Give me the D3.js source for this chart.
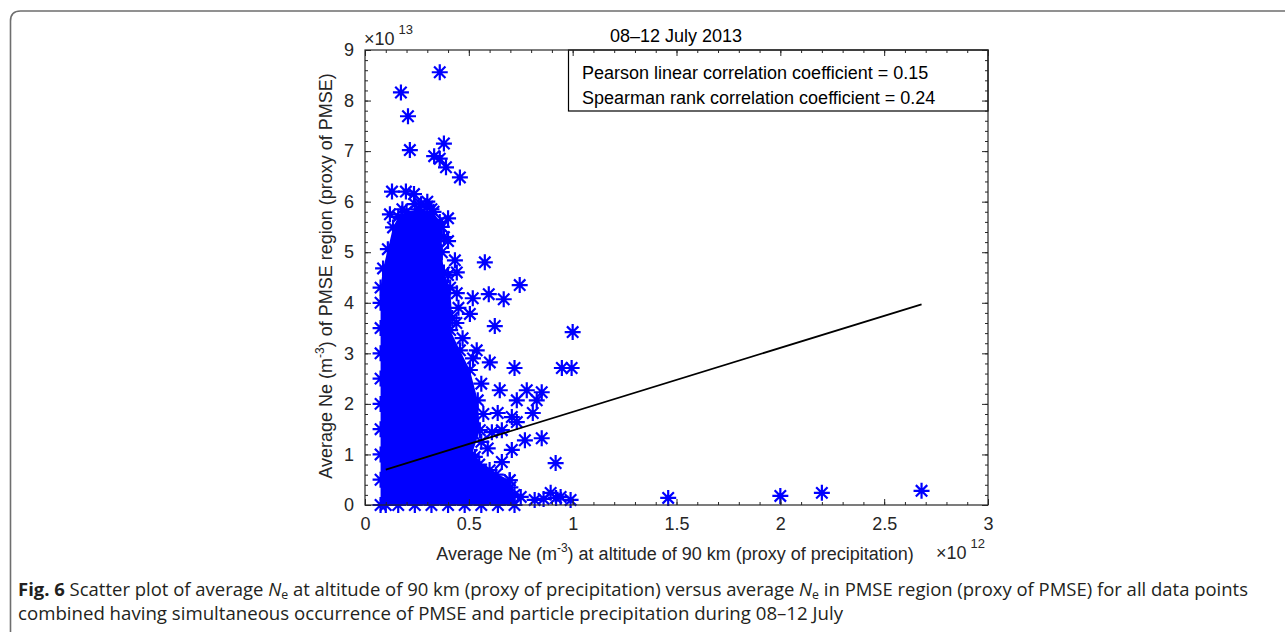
<!DOCTYPE html>
<html>
<head>
<meta charset="utf-8">
<script src="https://cdn.jsdelivr.net/npm/d3@7/dist/d3.min.js"></script>
<style>
  body { margin: 0; background: #fff; }
  svg { display: block; }
  .ax text { font-family: "Liberation Sans", Arial, Helvetica, sans-serif; font-size: 18px; fill: #262626; }
  .ax line { stroke: #262626; stroke-width: 1; }
</style>
</head>
<body>
<svg id="chart" width="1285" height="632"></svg>
<script>
// ---- data (x in units of 1e12 m^-3, y in units of 1e13 m^-3) ----
const xTickValues = [0, 0.5, 1, 1.5, 2, 2.5, 3];
const xTickLabels = ["0", "0.5", "1", "1.5", "2", "2.5", "3"];
const yTickValues = [0, 1, 2, 3, 4, 5, 6, 7, 8, 9];
const yTickLabels = ["0", "1", "2", "3", "4", "5", "6", "7", "8", "9"];

// outline of the densely packed core of the scatter (star centres)
const coreX = [0.075, 0.075, 0.075, 0.075, 0.075, 0.075, 0.075, 0.075, 0.075, 0.075, 0.087, 0.11, 0.135, 0.16,
               0.2, 0.26, 0.33, 0.37, 0.37, 0.38, 0.41, 0.42, 0.41, 0.457, 0.505, 0.543, 0.553, 0.514, 0.6,
               0.697, 0.72, 0.72, 0.64, 0.56, 0.48, 0.4, 0.32, 0.24, 0.16, 0.1];
const coreY = [0, 0.5, 1.0, 1.5, 2.0, 2.5, 3.0, 3.5, 4.0, 4.3, 4.68, 5.06, 5.49, 5.7,
               5.8, 5.85, 5.8, 5.5, 5.0, 4.6, 4.3, 3.7, 3.46, 3.06, 2.67, 2.07, 1.48, 0.99, 0.69,
               0.49, 0.2, 0, 0, 0, 0, 0, 0, 0, 0, 0];

// individual points outside the core
const ptX = [0.36, 0.173, 0.207, 0.216, 0.38, 0.333, 0.36, 0.39, 0.457, 0.13, 0.197, 0.236, 0.27, 0.3, 0.32,
             0.40, 0.40, 0.433, 0.442, 0.40, 0.577, 0.745, 0.442, 0.519, 0.596, 0.668, 0.505, 0.625, 1.0,
             0.538, 0.601, 0.72, 0.948, 0.995, 0.649, 0.779, 0.851, 0.731, 0.827, 0.639, 0.707, 0.808,
             0.731, 0.611, 0.659, 0.77, 0.851, 0.591, 0.707, 0.529, 0.659, 0.918, 0.697, 0.75, 0.817,
             0.894, 0.942, 0.99, 0.92, 0.86, 1.46, 2.0, 2.2, 2.68,
             0.45, 0.47, 0.52, 0.56, 0.57, 0.56, 0.55, 0.63, 0.7, 0.36, 0.38, 0.3, 0.24, 0.18, 0.12,
             0.66, 0.6, 0.5, 0.48, 0.44];
const ptY = [8.56, 8.16, 7.69, 7.02, 7.15, 6.9, 6.85, 6.68, 6.48, 6.2, 6.2, 6.15, 5.95, 5.9, 5.85,
             5.67, 5.22, 4.84, 4.6, 4.55, 4.80, 4.35, 4.19, 4.09, 4.17, 4.07, 3.78, 3.54, 3.42,
             3.06, 2.82, 2.71, 2.71, 2.71, 2.27, 2.27, 2.23, 2.07, 2.07, 1.82, 1.74, 1.82,
             1.64, 1.44, 1.48, 1.28, 1.32, 1.12, 1.09, 0.95, 0.85, 0.83, 0.49, 0.16, 0.10,
             0.24, 0.16, 0.10, 0.14, 0.12, 0.14, 0.18, 0.24, 0.28,
             3.9, 3.3, 2.9, 2.4, 1.8, 1.25, 0.8, 0.6, 0.35, 5.6, 5.3, 6.0, 5.95, 5.85, 5.75,
             0.2, 0.3, 1.6, 2.3, 3.6];

// least-squares fit line end points
const fitX = [0.1, 2.68];
const fitY = [0.7, 3.97];

const pearsonR = 0.15;
const spearmanR = 0.24;
const titleText = "08–12 July 2013";

// ---- layout ----
const svg = d3.select("#chart");
const pLeft = 365, pRight = 988, pTop = 50, pBottom = 505;
const x = d3.scaleLinear().domain([0, 3]).range([pLeft, pRight]);
const y = d3.scaleLinear().domain([0, 9]).range([pBottom, pTop]);
const blue = "#0000ff";
const font = "'Liberation Sans', Arial, Helvetica, sans-serif";

// rounded figure frame
svg.append("path")
  .attr("d", "M10.5,640 L10.5,21 Q10.5,11 20.5,11 L1295,11")
  .attr("fill", "none").attr("stroke", "#6e6e6e").attr("stroke-width", 1.6);

const plot = svg.append("g");

// dense core filled
const corePts = coreX.map((d, i) => [x(d), y(coreY[i])]);
plot.append("path")
  .attr("d", d3.line()(corePts) + "Z")
  .attr("fill", blue);

// star marker (MATLAB-like '*')
const r = 8, dd = 5.7;
const starPath = `M${-r},0L${r},0M0,${-r}L0,${r}M${-dd},${-dd}L${dd},${dd}M${-dd},${dd}L${dd},${-dd}`;
function stars(xs, ys) {
  plot.append("g").selectAll("path").data(xs.map((d, i) => [d, ys[i]])).join("path")
    .attr("d", starPath)
    .attr("transform", d => `translate(${x(d[0])},${y(d[1])})`)
    .attr("fill", "none").attr("stroke", blue).attr("stroke-width", 2.2);
}
stars(coreX, coreY);
stars(ptX, ptY);

// fit line
plot.append("path")
  .attr("d", d3.line()(fitX.map((d, i) => [x(d), y(fitY[i])])))
  .attr("fill", "none").attr("stroke", "#000").attr("stroke-width", 1.8);

// correlation box
const box = svg.append("g");
box.append("rect").attr("x", 568.5).attr("y", pTop).attr("width", pRight - 568.5).attr("height", 61)
  .attr("fill", "#fff").attr("stroke", "#000").attr("stroke-width", 1.2);
box.append("text").attr("x", 582).attr("y", 79)
  .attr("font-family", font).attr("font-size", 18).attr("fill", "#000")
  .text(`Pearson linear correlation coefficient = ${pearsonR.toFixed(2)}`);
box.append("text").attr("x", 582).attr("y", 104)
  .attr("font-family", font).attr("font-size", 18).attr("fill", "#000")
  .text(`Spearman rank correlation coefficient = ${spearmanR.toFixed(2)}`);

// axes (ticks inward, on all four sides)
const xMinor = d3.range(0, 31).map(i => i / 10);
const yMinor = d3.range(0, 46).map(i => i / 5);
function addAxis(gen, tx, ty) {
  const g = svg.append("g").attr("class", "ax").attr("transform", `translate(${tx},${ty})`).call(gen);
  g.select(".domain").remove();
  return g;
}
addAxis(d3.axisBottom(x).tickValues(xMinor).tickSize(-3).tickFormat(""), 0, pBottom);
addAxis(d3.axisTop(x).tickValues(xMinor).tickSize(-3).tickFormat(""), 0, pTop);
addAxis(d3.axisLeft(y).tickValues(yMinor).tickSize(-3).tickFormat(""), pLeft, 0);
addAxis(d3.axisRight(y).tickValues(yMinor).tickSize(-3).tickFormat(""), pRight, 0);
addAxis(d3.axisBottom(x).tickValues(xTickValues).tickSize(-6).tickPadding(12)
  .tickFormat((d, i) => xTickLabels[i]), 0, pBottom);
addAxis(d3.axisTop(x).tickValues(xTickValues).tickSize(-6).tickFormat(""), 0, pTop);
addAxis(d3.axisLeft(y).tickValues(yTickValues).tickSize(-6).tickPadding(11)
  .tickFormat((d, i) => yTickLabels[i]), pLeft, 0);
addAxis(d3.axisRight(y).tickValues(yTickValues).tickSize(-6).tickFormat(""), pRight, 0);

// axes box
svg.append("rect").attr("x", pLeft).attr("y", pTop).attr("width", pRight - pLeft).attr("height", pBottom - pTop)
  .attr("fill", "none").attr("stroke", "#262626").attr("stroke-width", 1.2);

// title
svg.append("text").attr("x", 676).attr("y", 42).attr("text-anchor", "middle")
  .attr("font-family", font).attr("font-size", 18).attr("fill", "#000").text(titleText);

// exponent labels
const ey = svg.append("text").attr("x", 364).attr("y", 45)
  .attr("font-family", font).attr("font-size", 18).attr("fill", "#262626");
ey.append("tspan").text("×10");
ey.append("tspan").attr("dy", -11).attr("font-size", 13).attr("dx", 4).text("13");

const ex = svg.append("text").attr("x", 936).attr("y", 559)
  .attr("font-family", font).attr("font-size", 18).attr("fill", "#262626");
ex.append("tspan").text("×10");
ex.append("tspan").attr("dy", -11).attr("font-size", 13).attr("dx", 4).text("12");

// axis labels
const xl = svg.append("text").attr("x", 675).attr("y", 560).attr("text-anchor", "middle")
  .attr("font-family", font).attr("font-size", 18).attr("fill", "#262626");
xl.append("tspan").text("Average Ne (m");
xl.append("tspan").attr("dy", -8).attr("font-size", 12).text("-3");
xl.append("tspan").attr("dy", 8).text(") at altitude of 90 km (proxy of precipitation)");

const yl = svg.append("text").attr("transform", "translate(332,276) rotate(-90)").attr("text-anchor", "middle")
  .attr("font-family", font).attr("font-size", 18).attr("fill", "#262626");
yl.append("tspan").text("Average Ne (m");
yl.append("tspan").attr("dy", -8).attr("font-size", 12).text("-3");
yl.append("tspan").attr("dy", 8).text(") of PMSE region (proxy of PMSE)");

// figure caption
const capFont = "'Open Sans', 'Noto Sans', sans-serif";
const c1 = svg.append("text").attr("x", 18).attr("y", 596)
  .attr("font-family", capFont).attr("font-size", 18).attr("fill", "#231f20")
  .attr("textLength", 1230).attr("lengthAdjust", "spacingAndGlyphs");
c1.append("tspan").attr("font-weight", "bold").text("Fig. 6");
c1.append("tspan").text("  Scatter plot of average ");
c1.append("tspan").attr("font-style", "italic").text("N");
c1.append("tspan").attr("dy", 3).attr("font-size", 12).text("e");
c1.append("tspan").attr("dy", -3).text(" at altitude of 90 km (proxy of precipitation) versus average ");
c1.append("tspan").attr("font-style", "italic").text("N");
c1.append("tspan").attr("dy", 3).attr("font-size", 12).text("e");
c1.append("tspan").attr("dy", -3).text(" in PMSE region (proxy of PMSE) for all data points");

svg.append("text").attr("x", 18).attr("y", 620)
  .attr("font-family", capFont).attr("font-size", 18).attr("fill", "#231f20")
  .attr("textLength", 825).attr("lengthAdjust", "spacingAndGlyphs")
  .text("combined having simultaneous occurrence of PMSE and particle precipitation during 08–12 July");
</script>
</body>
</html>
